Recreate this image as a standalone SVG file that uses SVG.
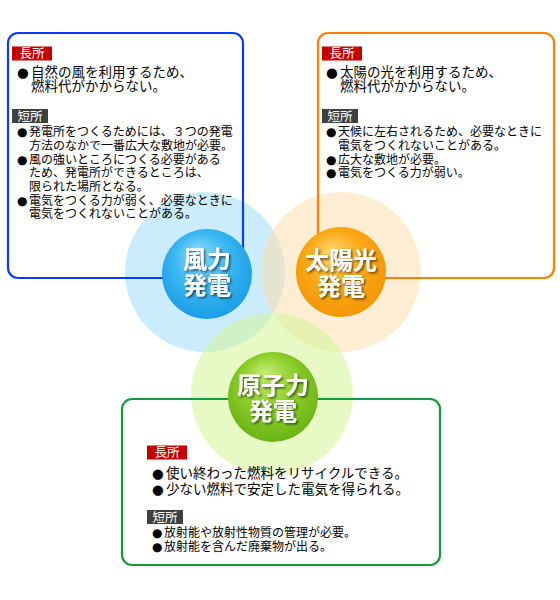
<svg xmlns="http://www.w3.org/2000/svg" width="560" height="600" viewBox="0 0 560 600">
<defs>
<style>
text { font-family: "Liberation Sans", "Noto Sans CJK JP", sans-serif; }
.b { font-family: "DejaVu Sans", "Noto Sans CJK JP", sans-serif; }
.pro { font-size: 13.5px; fill: #000; }
.con { font-size: 12px; fill: #000; }
.tag { font-size: 12.5px; fill: #fff; text-anchor: middle; }
.red { fill: #c40000; }
.gray { fill: #404040; }
.box { fill: none; stroke-width: 2.2; }
.lbl { font-size: 24px; font-weight: bold; fill: #fff; text-anchor: middle; filter: url(#sh); }
.halo { fill-opacity: 0.55; }
</style>
<filter id="sh" x="-20%" y="-20%" width="140%" height="140%">
<feDropShadow dx="1.5" dy="1.5" stdDeviation="0.8" flood-color="#000" flood-opacity="0.6"/>
</filter>
<radialGradient id="gb" cx="50%" cy="45%" r="60%" fx="38%" fy="25%">
<stop offset="0" stop-color="#8fdcfb"/>
<stop offset="0.5" stop-color="#3db8f2"/>
<stop offset="1" stop-color="#159ae6"/>
</radialGradient>
<radialGradient id="go" cx="50%" cy="45%" r="60%" fx="38%" fy="25%">
<stop offset="0" stop-color="#ffd46a"/>
<stop offset="0.5" stop-color="#fbaa1a"/>
<stop offset="1" stop-color="#f29300"/>
</radialGradient>
<radialGradient id="gg" cx="50%" cy="45%" r="60%" fx="40%" fy="22%">
<stop offset="0" stop-color="#c4ec6e"/>
<stop offset="0.5" stop-color="#8ecf2c"/>
<stop offset="1" stop-color="#65b012"/>
</radialGradient>
</defs>

<g id="halos">
<circle class="halo" cx="205" cy="272" r="80" fill="#9edcfb"/>
<circle class="halo" cx="341" cy="272" r="80" fill="#fbdfad"/>
<circle class="halo" cx="272" cy="394" r="81" fill="#d3f597"/>
</g>

<g id="panel-wind">
<rect class="box" x="8" y="33" width="235" height="245" rx="10" stroke="#0a3cff"/>
<rect class="red" x="12" y="46.5" width="40" height="14"/>
<text class="tag" x="32" y="58">長所</text>
<text class="pro" y="77"><tspan class="b" x="17">●</tspan><tspan x="31">自然の風を利用するため、</tspan></text>
<text class="pro" x="31" y="91">燃料代がかからない。</text>
<rect class="gray" x="12" y="109" width="36" height="14"/>
<text class="tag" x="30" y="120.5">短所</text>
<text class="con" y="136"><tspan class="b" x="17">●</tspan><tspan x="29">発電所をつくるためには、３つの発電</tspan></text>
<text class="con" x="29" y="150">方法のなかで一番広大な敷地が必要。</text>
<text class="con" y="163.5"><tspan class="b" x="17">●</tspan><tspan x="29">風の強いところにつくる必要がある</tspan></text>
<text class="con" x="29" y="177">ため、発電所ができるところは、</text>
<text class="con" x="29" y="191">限られた場所となる。</text>
<text class="con" y="204.5"><tspan class="b" x="17">●</tspan><tspan x="29">電気をつくる力が弱く、必要なときに</tspan></text>
<text class="con" x="29" y="218">電気をつくれないことがある。</text>
</g>

<g id="panel-sun">
<rect class="box" x="318" y="33" width="236" height="245" rx="10" stroke="#ff8000"/>
<rect class="red" x="322" y="46.5" width="40" height="14"/>
<text class="tag" x="342" y="58">長所</text>
<text class="pro" y="77"><tspan class="b" x="326">●</tspan><tspan x="340">太陽の光を利用するため、</tspan></text>
<text class="pro" x="340" y="91">燃料代がかからない。</text>
<rect class="gray" x="322" y="109" width="36" height="14"/>
<text class="tag" x="340" y="120.5">短所</text>
<text class="con" y="136"><tspan class="b" x="326">●</tspan><tspan x="338">天候に左右されるため、必要なときに</tspan></text>
<text class="con" x="338" y="150">電気をつくれないことがある。</text>
<text class="con" y="163.5"><tspan class="b" x="326">●</tspan><tspan x="338">広大な敷地が必要。</tspan></text>
<text class="con" y="177"><tspan class="b" x="326">●</tspan><tspan x="338">電気をつくる力が弱い。</tspan></text>
</g>

<g id="panel-nuclear">
<rect class="box" x="122" y="399" width="318" height="166" rx="10" stroke="#189a3a"/>
<rect class="red" x="147" y="445.5" width="40" height="14"/>
<text class="tag" x="167" y="457">長所</text>
<text class="pro" y="477.5"><tspan class="b" x="152">●</tspan><tspan x="166">使い終わった燃料をリサイクルできる。</tspan></text>
<text class="pro" y="493.5"><tspan class="b" x="152">●</tspan><tspan x="166">少ない燃料で安定した電気を得られる。</tspan></text>
<rect class="gray" x="147" y="510" width="36" height="14"/>
<text class="tag" x="165" y="521.5">短所</text>
<text class="con" y="537"><tspan class="b" x="152">●</tspan><tspan x="164">放射能や放射性物質の管理が必要。</tspan></text>
<text class="con" y="550.5"><tspan class="b" x="152">●</tspan><tspan x="164">放射能を含んだ廃棄物が出る。</tspan></text>
</g>

<g id="node-wind">
<circle cx="207" cy="274" r="45" fill="url(#gb)"/>
<text class="lbl" x="207" y="268">風力</text>
<text class="lbl" x="207" y="294">発電</text>
</g>

<g id="node-sun">
<circle cx="341" cy="272" r="45" fill="url(#go)"/>
<text class="lbl" x="341" y="269">太陽光</text>
<text class="lbl" x="341" y="295">発電</text>
</g>

<g id="node-nuclear">
<circle cx="273" cy="397" r="45" fill="url(#gg)"/>
<text class="lbl" x="273" y="394">原子力</text>
<text class="lbl" x="273" y="420">発電</text>
</g>
</svg>
